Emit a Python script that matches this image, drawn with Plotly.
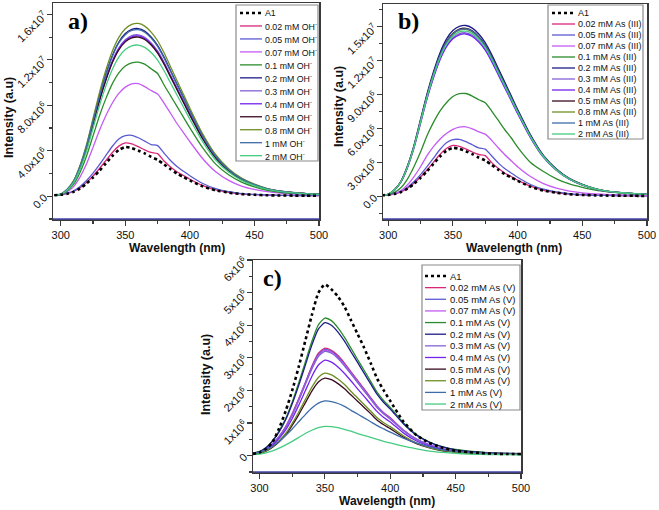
import numpy as np
import plotly.graph_objects as go

# ---------------- data (intensity in units of 1e6 a.u.) ----------------
wavelength = [295, 300, 305, 310, 315, 320, 325, 330, 335, 340, 345, 350, 355, 360, 365, 370,
              375, 380, 385, 390, 395, 400, 410, 420, 430, 440, 450, 460, 470, 480, 490, 500]

# Panel a) : OH-
a_labels = ["A1", "0.02 mM OH<sup>-</sup>", "0.05 mM OH<sup>-</sup>", "0.07 mM OH<sup>-</sup>",
            "0.1 mM OH<sup>-</sup>", "0.2 mM OH<sup>-</sup>", "0.3 mM OH<sup>-</sup>", "0.4 mM OH<sup>-</sup>",
            "0.5 mM OH<sup>-</sup>", "0.8 mM OH<sup>-</sup>", "1 mM OH<sup>-</sup>", "2 mM OH<sup>-</sup>"]
a_A1 = [0.09, 0.13, 0.22, 0.39, 0.69, 1.13, 1.65, 2.25, 2.90, 3.55, 4.07, 4.33, 4.24, 4.03, 3.77, 3.46,
        3.20, 2.81, 2.38, 1.99, 1.69, 1.39, 0.87, 0.52, 0.32, 0.19, 0.13, 0.09, 0.07, 0.06, 0.05, 0.04]
a_002 = [0.09, 0.14, 0.24, 0.42, 0.75, 1.22, 1.78, 2.44, 3.14, 3.85, 4.41, 4.69, 4.60, 4.36, 4.08, 3.85,
         3.75, 3.10, 2.58, 2.16, 1.83, 1.50, 0.94, 0.56, 0.35, 0.21, 0.14, 0.10, 0.08, 0.06, 0.05, 0.05]
a_005 = [0.10, 0.16, 0.27, 0.48, 0.86, 1.39, 2.04, 2.79, 3.59, 4.40, 5.04, 5.33, 5.36, 5.15, 4.85, 4.55,
         4.45, 3.80, 3.15, 2.62, 2.20, 1.80, 1.12, 0.67, 0.41, 0.24, 0.16, 0.11, 0.08, 0.07, 0.06, 0.05]
a_007 = [0.12, 0.16, 0.40, 0.85, 1.70, 2.85, 4.30, 5.80, 7.10, 8.20, 9.05, 9.60, 9.88, 9.90, 9.65, 9.30,
         9.00, 8.20, 7.30, 6.40, 5.60, 4.80, 3.30, 2.15, 1.40, 0.90, 0.60, 0.40, 0.28, 0.20, 0.16, 0.13]
a_01 = [0.07, 0.14, 0.47, 1.06, 2.12, 3.54, 5.31, 7.08, 8.61, 9.91, 10.86, 11.45, 11.74, 11.80, 11.62, 11.21,
        10.80, 9.79, 8.85, 7.91, 6.96, 6.02, 4.25, 2.83, 1.89, 1.24, 0.83, 0.53, 0.35, 0.26, 0.19, 0.14]
a_02 = [0.09, 0.18, 0.59, 1.33, 2.66, 4.43, 6.64, 8.85, 10.77, 12.39, 13.57, 14.31, 14.68, 14.75, 14.53, 14.01,
        13.28, 12.24, 11.06, 9.88, 8.70, 7.52, 5.31, 3.54, 2.36, 1.55, 1.03, 0.66, 0.44, 0.32, 0.24, 0.18]
a_03 = [0.09, 0.17, 0.57, 1.28, 2.56, 4.26, 6.39, 8.52, 10.37, 11.93, 13.06, 13.77, 14.13, 14.20, 13.99, 13.49,
        12.78, 11.79, 10.65, 9.51, 8.38, 7.24, 5.11, 3.41, 2.27, 1.49, 0.99, 0.64, 0.43, 0.31, 0.23, 0.17]
a_04 = [0.08, 0.17, 0.56, 1.27, 2.54, 4.23, 6.35, 8.46, 10.29, 11.84, 12.97, 13.68, 14.03, 14.10, 13.89, 13.40,
        12.69, 11.70, 10.58, 9.45, 8.32, 7.19, 5.08, 3.38, 2.26, 1.48, 0.99, 0.63, 0.42, 0.31, 0.23, 0.17]
a_05 = [0.08, 0.17, 0.56, 1.26, 2.52, 4.20, 6.30, 8.40, 10.22, 11.76, 12.88, 13.58, 13.93, 14.00, 13.79, 13.30,
        12.60, 11.62, 10.50, 9.38, 8.26, 7.14, 5.04, 3.36, 2.24, 1.47, 0.98, 0.63, 0.42, 0.31, 0.22, 0.17]
a_08 = [0.09, 0.18, 0.61, 1.37, 2.74, 4.56, 6.84, 9.12, 11.10, 12.77, 13.98, 14.74, 15.12, 15.20, 14.97, 14.44,
        13.68, 12.62, 11.40, 10.18, 8.97, 7.75, 5.47, 3.65, 2.43, 1.60, 1.06, 0.68, 0.46, 0.33, 0.24, 0.18]
a_1 = [0.09, 0.18, 0.59, 1.32, 2.64, 4.40, 6.59, 8.79, 10.69, 12.31, 13.48, 14.21, 14.58, 14.65, 14.43, 13.92,
       13.19, 12.16, 10.99, 9.82, 8.64, 7.47, 5.27, 3.52, 2.34, 1.54, 1.03, 0.66, 0.44, 0.32, 0.23, 0.18]
a_2 = [0.08, 0.16, 0.53, 1.20, 2.39, 3.99, 5.99, 7.98, 9.71, 11.17, 12.24, 12.90, 13.23, 13.30, 13.10, 12.64,
       11.97, 11.04, 9.98, 8.91, 7.85, 6.78, 4.79, 3.19, 2.13, 1.40, 0.93, 0.60, 0.40, 0.29, 0.21, 0.16]

# Panel b) : As(III)
b_labels = ["A1", "0.02 mM As (III)", "0.05 mM As (III)", "0.07 mM As (III)", "0.1 mM As (III)",
            "0.2 mM As (III)", "0.3 mM As (III)", "0.4 mM As (III)", "0.5 mM As (III)",
            "0.8 mM As (III)", "1 mM As (III)", "2 mM As (III)"]
b_A1 = [0.09, 0.13, 0.22, 0.39, 0.68, 1.12, 1.64, 2.23, 2.87, 3.52, 4.03, 4.29, 4.20, 3.99, 3.73, 3.43,
        3.17, 2.78, 2.36, 1.97, 1.67, 1.38, 0.86, 0.51, 0.32, 0.19, 0.13, 0.09, 0.07, 0.06, 0.05, 0.04]
b_002 = [0.09, 0.13, 0.23, 0.40, 0.72, 1.17, 1.71, 2.34, 3.01, 3.70, 4.23, 4.50, 4.42, 4.19, 3.92, 3.70,
         3.60, 2.98, 2.48, 2.07, 1.76, 1.44, 0.90, 0.54, 0.34, 0.20, 0.13, 0.10, 0.08, 0.06, 0.05, 0.05]
b_005 = [0.09, 0.15, 0.25, 0.45, 0.81, 1.31, 1.92, 2.62, 3.37, 4.14, 4.74, 5.01, 5.03, 4.84, 4.56, 4.28,
         4.18, 3.57, 2.96, 2.46, 2.07, 1.69, 1.05, 0.63, 0.39, 0.23, 0.15, 0.10, 0.08, 0.07, 0.06, 0.05]
b_007 = [0.10, 0.14, 0.26, 0.52, 1.03, 1.75, 2.62, 3.60, 4.40, 5.05, 5.55, 5.92, 6.12, 6.15, 5.97, 5.70,
         5.50, 4.95, 4.30, 3.70, 3.15, 2.62, 1.75, 1.12, 0.72, 0.46, 0.31, 0.22, 0.16, 0.13, 0.11, 0.10]
b_01 = [0.11, 0.15, 0.36, 0.78, 1.55, 2.64, 3.91, 5.36, 6.54, 7.54, 8.27, 8.82, 9.07, 9.09, 8.86, 8.54,
        8.27, 7.54, 6.73, 5.91, 5.18, 4.36, 3.00, 2.20, 1.55, 1.10, 0.80, 0.55, 0.40, 0.30, 0.22, 0.17]
b_02 = [0.09, 0.18, 0.60, 1.36, 2.72, 4.53, 6.80, 9.06, 11.02, 12.68, 13.89, 14.65, 15.02, 15.10, 14.87, 14.35,
        13.59, 12.53, 11.33, 10.12, 8.91, 7.70, 5.44, 3.62, 2.42, 1.59, 1.06, 0.68, 0.45, 0.33, 0.24, 0.18]
b_03 = [0.09, 0.17, 0.58, 1.30, 2.60, 4.34, 6.50, 8.67, 10.55, 12.14, 13.29, 14.02, 14.38, 14.45, 14.23, 13.73,
        13.01, 11.99, 10.84, 9.68, 8.53, 7.37, 5.20, 3.47, 2.31, 1.52, 1.01, 0.65, 0.43, 0.32, 0.23, 0.17]
b_04 = [0.09, 0.17, 0.57, 1.29, 2.58, 4.31, 6.46, 8.61, 10.48, 12.05, 13.20, 13.92, 14.28, 14.35, 14.13, 13.63,
        12.92, 11.91, 10.76, 9.61, 8.47, 7.32, 5.17, 3.44, 2.30, 1.51, 1.00, 0.65, 0.43, 0.32, 0.23, 0.17]
b_05 = [0.09, 0.18, 0.59, 1.34, 2.67, 4.46, 6.68, 8.91, 10.84, 12.47, 13.66, 14.40, 14.78, 14.85, 14.63, 14.11,
        13.37, 12.33, 11.14, 9.95, 8.76, 7.57, 5.35, 3.56, 2.38, 1.56, 1.04, 0.67, 0.45, 0.33, 0.24, 0.18]
b_08 = [0.09, 0.18, 0.59, 1.33, 2.66, 4.43, 6.64, 8.85, 10.77, 12.39, 13.57, 14.31, 14.68, 14.75, 14.53, 14.01,
        13.28, 12.24, 11.06, 9.88, 8.70, 7.52, 5.31, 3.54, 2.36, 1.55, 1.03, 0.66, 0.44, 0.32, 0.24, 0.18]
b_1 = [0.09, 0.18, 0.59, 1.33, 2.66, 4.44, 6.66, 8.88, 10.80, 12.43, 13.62, 14.36, 14.73, 14.80, 14.58, 14.06,
       13.32, 12.28, 11.10, 9.92, 8.73, 7.55, 5.33, 3.55, 2.37, 1.55, 1.04, 0.67, 0.44, 0.33, 0.24, 0.18]
b_2 = [0.09, 0.18, 0.58, 1.31, 2.63, 4.38, 6.57, 8.76, 10.66, 12.26, 13.43, 14.16, 14.53, 14.60, 14.38, 13.87,
       13.14, 12.12, 10.95, 9.78, 8.61, 7.45, 5.26, 3.50, 2.34, 1.53, 1.02, 0.66, 0.44, 0.32, 0.23, 0.18]

# Panel c) : As(V)
c_labels = ["A1", "0.02 mM As (V)", "0.05 mM As (V)", "0.07 mM As (V)", "0.1 mM As (V)",
            "0.2 mM As (V)", "0.3 mM As (V)", "0.4 mM As (V)", "0.5 mM As (V)",
            "0.8 mM As (V)", "1 mM As (V)", "2 mM As (V)"]
c_A1 = [0.05, 0.10, 0.21, 0.42, 0.84, 1.37, 2.00, 2.73, 3.52, 4.31, 4.99, 5.25, 5.10, 4.88, 4.57, 4.15,
        3.73, 3.31, 2.84, 2.36, 2.00, 1.68, 1.05, 0.63, 0.39, 0.24, 0.15, 0.11, 0.08, 0.06, 0.05, 0.05]
c_002 = [0.07, 0.10, 0.20, 0.36, 0.59, 0.89, 1.29, 1.75, 2.24, 2.74, 3.14, 3.30, 3.23, 3.07, 2.84, 2.57,
         2.31, 2.05, 1.78, 1.52, 1.32, 1.16, 0.79, 0.51, 0.33, 0.21, 0.15, 0.11, 0.08, 0.07, 0.06, 0.05]
c_005 = [0.07, 0.10, 0.20, 0.36, 0.59, 0.88, 1.27, 1.73, 2.22, 2.71, 3.10, 3.26, 3.19, 3.03, 2.80, 2.54,
         2.28, 2.02, 1.76, 1.50, 1.30, 1.14, 0.78, 0.51, 0.33, 0.21, 0.15, 0.10, 0.08, 0.07, 0.06, 0.05]
c_007 = [0.06, 0.10, 0.19, 0.36, 0.58, 0.87, 1.26, 1.71, 2.20, 2.68, 3.07, 3.23, 3.17, 3.00, 2.78, 2.52,
         2.26, 2.00, 1.74, 1.49, 1.29, 1.13, 0.78, 0.50, 0.32, 0.21, 0.15, 0.10, 0.08, 0.06, 0.05, 0.05]
c_01 = [0.08, 0.13, 0.25, 0.46, 0.76, 1.14, 1.65, 2.24, 2.87, 3.50, 4.01, 4.22, 4.14, 3.92, 3.63, 3.29,
        2.95, 2.62, 2.28, 1.94, 1.69, 1.48, 1.01, 0.65, 0.42, 0.27, 0.19, 0.14, 0.11, 0.08, 0.07, 0.06]
c_02 = [0.08, 0.12, 0.24, 0.45, 0.73, 1.10, 1.59, 2.16, 2.77, 3.39, 3.88, 4.08, 4.00, 3.79, 3.51, 3.18,
        2.86, 2.53, 2.20, 1.88, 1.63, 1.43, 0.98, 0.63, 0.41, 0.27, 0.18, 0.13, 0.10, 0.08, 0.07, 0.06]
c_03 = [0.06, 0.10, 0.19, 0.35, 0.58, 0.86, 1.25, 1.70, 2.18, 2.66, 3.04, 3.20, 3.14, 2.98, 2.75, 2.50,
        2.24, 1.98, 1.73, 1.47, 1.28, 1.12, 0.77, 0.50, 0.32, 0.21, 0.14, 0.10, 0.08, 0.06, 0.05, 0.05]
c_04 = [0.06, 0.09, 0.18, 0.32, 0.53, 0.79, 1.14, 1.55, 1.99, 2.43, 2.78, 2.93, 2.87, 2.72, 2.52, 2.29,
        2.05, 1.82, 1.58, 1.35, 1.17, 1.03, 0.70, 0.45, 0.29, 0.19, 0.13, 0.09, 0.07, 0.06, 0.05, 0.04]
c_05 = [0.05, 0.07, 0.14, 0.26, 0.43, 0.64, 0.93, 1.26, 1.62, 1.98, 2.26, 2.38, 2.33, 2.21, 2.05, 1.86,
        1.67, 1.48, 1.29, 1.09, 0.95, 0.83, 0.57, 0.37, 0.24, 0.15, 0.11, 0.08, 0.06, 0.05, 0.04, 0.04]
c_08 = [0.05, 0.08, 0.15, 0.28, 0.46, 0.68, 0.99, 1.34, 1.72, 2.10, 2.40, 2.53, 2.48, 2.35, 2.18, 1.97,
        1.77, 1.57, 1.37, 1.16, 1.01, 0.89, 0.61, 0.39, 0.25, 0.16, 0.11, 0.08, 0.06, 0.05, 0.04, 0.04]
c_1 = [0.07, 0.10, 0.17, 0.29, 0.44, 0.62, 0.82, 1.04, 1.26, 1.46, 1.61, 1.68, 1.66, 1.60, 1.51, 1.39,
       1.28, 1.16, 1.04, 0.92, 0.82, 0.72, 0.54, 0.39, 0.27, 0.18, 0.13, 0.10, 0.08, 0.06, 0.05, 0.04]
c_2 = [0.04, 0.05, 0.09, 0.15, 0.23, 0.33, 0.44, 0.56, 0.68, 0.78, 0.86, 0.90, 0.89, 0.86, 0.81, 0.75,
       0.68, 0.62, 0.56, 0.50, 0.44, 0.39, 0.29, 0.21, 0.14, 0.10, 0.07, 0.05, 0.04, 0.03, 0.03, 0.02]

a_series = [a_A1, a_002, a_005, a_007, a_01, a_02, a_03, a_04, a_05, a_08, a_1, a_2]
b_series = [b_A1, b_002, b_005, b_007, b_01, b_02, b_03, b_04, b_05, b_08, b_1, b_2]
c_series = [c_A1, c_002, c_005, c_007, c_01, c_02, c_03, c_04, c_05, c_08, c_1, c_2]

a_ticks = [0, 4e6, 8e6, 1.2e7, 1.6e7]
a_ticktext = ["0.0", "4.0x10<sup>6</sup>", "8.0x10<sup>6</sup>", "1.2x10<sup>7</sup>", "1.6x10<sup>7</sup>"]
b_ticks = [0, 3e6, 6e6, 9e6, 1.2e7, 1.5e7]
b_ticktext = ["0.0", "3.0x10<sup>6</sup>", "6.0x10<sup>6</sup>", "9.0x10<sup>6</sup>",
              "1.2x10<sup>7</sup>", "1.5x10<sup>7</sup>"]
c_ticks = [0, 1e6, 2e6, 3e6, 4e6, 5e6, 6e6]
c_ticktext = ["0", "1x10<sup>6</sup>", "2x10<sup>6</sup>", "3x10<sup>6</sup>", "4x10<sup>6</sup>",
              "5x10<sup>6</sup>", "6x10<sup>6</sup>"]
x_ticks = [300, 350, 400, 450, 500]

# ---------------- styling ----------------
colors = ["#000000", "#D9267A", "#5A5AD2", "#C55AF5", "#2A8C2A", "#1C1C88", "#8462D6",
          "#7424EE", "#3A0A20", "#6E8E22", "#3D6CA8", "#45CC80"]
W, H = 659, 510
FONT = "Liberation Sans, Arial, sans-serif"
AXC = "#3a3a3a"


def px(x):
    return x / W


def py(y):
    return 1 - y / H


fig = go.Figure()

panels = [
    dict(series=a_series, labels=a_labels, xa="x", ya="y"),
    dict(series=b_series, labels=b_labels, xa="x2", ya="y2"),
    dict(series=c_series, labels=c_labels, xa="x3", ya="y3"),
]
for p in panels:
    order = list(range(1, len(p["series"]))) + [0]
    for i in order:
        vals = np.array(p["series"][i]) * 1e6
        dotted = i == 0
        fig.add_trace(go.Scatter(
            x=wavelength, y=vals, mode="lines", xaxis=p["xa"], yaxis=p["ya"],
            line=dict(color=colors[i], width=2.6 if dotted else 1.3,
                      dash="dot" if dotted else "solid", shape="spline", smoothing=0.6),
            showlegend=False, hoverinfo="skip"))

common_x = dict(tickvals=x_ticks, ticks="outside", ticklen=5, tickwidth=1.2, automargin=False,
                tickcolor=AXC, showline=True, linecolor=AXC, linewidth=1.5, mirror=True,
                showgrid=False, zeroline=False, tickfont=dict(family=FONT, size=11, color="#111"),
                minor=dict(ticks="outside", ticklen=3, tickcolor=AXC, tickmode="linear",
                           tick0=325, dtick=50, showgrid=False))
common_y = dict(ticks="outside", ticklen=5, tickwidth=1.2, tickcolor=AXC, showline=True,
                linecolor=AXC, linewidth=1.5, mirror=True, showgrid=False, zeroline=False,
                tickangle=-45, tickmode="array", automargin=False,
                tickfont=dict(family=FONT, size=11, color="#111"))

fig.update_layout(
    template="none",
    width=W, height=H, margin=dict(l=0, r=0, t=0, b=0, autoexpand=False),
    paper_bgcolor="white", plot_bgcolor="white", showlegend=False,
    xaxis=dict(common_x, domain=[px(53), px(319)], anchor="y", range=[294, 500]),
    yaxis=dict(common_y, domain=[py(219), py(3)], anchor="x", range=[-2e6, 1.7e7],
               tickvals=a_ticks, ticktext=a_ticktext,
               minor=dict(ticks="outside", ticklen=3, tickcolor=AXC, tickmode="linear",
                          tick0=2e6, dtick=4e6, showgrid=False)),
    xaxis2=dict(common_x, domain=[px(383), px(647)], anchor="y2", range=[296, 500]),
    yaxis2=dict(common_y, domain=[py(219), py(4)], anchor="x2", range=[-2e6, 1.7e7],
                tickvals=b_ticks, ticktext=b_ticktext,
                minor=dict(ticks="outside", ticklen=3, tickcolor=AXC, tickmode="linear",
                           tick0=1.5e6, dtick=3e6, showgrid=False)),
    xaxis3=dict(common_x, domain=[px(253), px(521)], anchor="y3", range=[295, 500]),
    yaxis3=dict(common_y, domain=[py(472), py(260)], anchor="x3", range=[-0.5e6, 6.0e6],
                tickvals=c_ticks, ticktext=c_ticktext,
                minor=dict(ticks="outside", ticklen=3, tickcolor=AXC, tickmode="linear",
                           tick0=0.5e6, dtick=1e6, showgrid=False)),
)

shapes = []
annotations = []

# bluish bottom baseline along each x axis
for xa, ya in [("x", "y"), ("x2", "y2"), ("x3", "y3")]:
    shapes.append(dict(type="line", xref=f"{xa} domain", yref=f"{ya} domain", x0=0, x1=1, y0=0, y1=0,
                       line=dict(color="#4646a8", width=1.5)))

# legends drawn as boxes
legends = [
    dict(labels=a_labels, box=(236, 5, 318, 161), y0=13, step=12.97, lx=(240, 262), tx=263, fs=8.8),
    dict(labels=b_labels, box=(548, 5, 643, 139), y0=13, step=11.0, lx=(552, 575), tx=576, fs=9.0),
    dict(labels=c_labels, box=(422, 265, 520, 410), y0=276, step=11.64, lx=(425, 446), tx=448, fs=9.5),
]
for lg in legends:
    bx0, by0, bx1, by1 = lg["box"]
    shapes.append(dict(type="rect", xref="paper", yref="paper", x0=px(bx0), x1=px(bx1),
                       y0=py(by1), y1=py(by0), line=dict(color="#8a8a8a", width=1.2),
                       fillcolor="white", layer="above"))
    for i, lab in enumerate(lg["labels"]):
        yy = lg["y0"] + i * lg["step"]
        shapes.append(dict(type="line", xref="paper", yref="paper",
                           x0=px(lg["lx"][0]), x1=px(lg["lx"][1]), y0=py(yy), y1=py(yy),
                           line=dict(color=colors[i], width=2.4 if i == 0 else 1.3,
                                     dash="dot" if i == 0 else "solid"), layer="above"))
        annotations.append(dict(text=lab, xref="paper", yref="paper", x=px(lg["tx"]), y=py(yy),
                                xanchor="left", yanchor="middle", showarrow=False,
                                font=dict(family=FONT, size=lg["fs"], color="#111")))

# axis titles
for cx, cy in [(177, 248), (514, 247.5), (387, 501)]:
    annotations.append(dict(text="<b>Wavelength (nm)</b>", xref="paper", yref="paper", x=px(cx), y=py(cy),
                            xanchor="center", yanchor="middle", showarrow=False,
                            font=dict(family=FONT, size=12, color="#111")))
for cx, cy in [(9, 118), (339, 107), (206, 375)]:
    annotations.append(dict(text="<b>Intensity (a.u)</b>", xref="paper", yref="paper", x=px(cx), y=py(cy),
                            xanchor="center", yanchor="middle", showarrow=False, textangle=-90,
                            font=dict(family=FONT, size=12.5, color="#111")))

# panel letters
for txt, cx, cy in [("a)", 78, 21), ("b)", 408, 21), ("c)", 272, 278)]:
    annotations.append(dict(text=f"<b>{txt}</b>", xref="paper", yref="paper", x=px(cx), y=py(cy),
                            xanchor="center", yanchor="middle", showarrow=False,
                            font=dict(family="Liberation Serif, Times New Roman, serif", size=24,
                                      color="#000")))

fig.update_layout(shapes=shapes, annotations=annotations)
fig.write_html("out.html", config={"displayModeBar": False, "staticPlot": True},
               post_script="document.body.style.margin='0';")
